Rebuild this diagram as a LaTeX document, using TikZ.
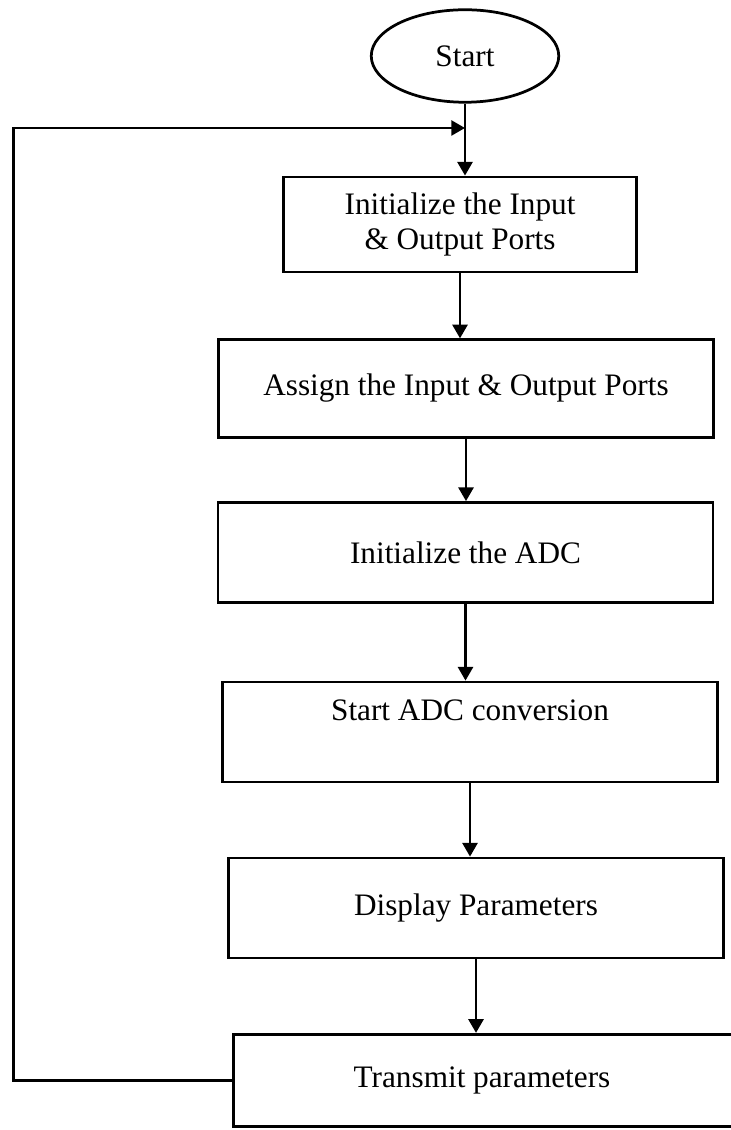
\documentclass[tikz,border=0pt]{standalone}
\usepackage{fontspec}
\setmainfont{Liberation Serif}
\usetikzlibrary{shapes.geometric,arrows.meta}

\begin{document}
\begin{tikzpicture}[x=0.4pt,y=-0.4pt,line width=1.1pt,
    font=\fontsize{12.5}{14}\selectfont,
    >={Triangle[width=6pt,length=5.5pt]},
    stage/.style={draw,shape=rectangle,align=center,inner sep=0pt,minimum height=40pt}]
  \useasboundingbox (0,0) rectangle (731,1130);
  \clip (0,0) rectangle (731,1130);
  \node[draw,shape=ellipse,inner sep=0pt,minimum width=75pt,minimum height=37pt] (start) at (465,56) {Start};
  \node[stage,minimum width=141pt,minimum height=38pt] (initports) at (460,224.5) {Initialize the Input\\ \& Output Ports};
  \node[stage,minimum width=198pt,minimum height=39pt] (assign) at (466,388.5) {Assign the Input \& Output Ports};
  \node[stage,minimum width=198pt] (initadc) at (465.5,552.5) {Initialize the ADC};
  \node[stage,minimum width=198pt,text height=9pt,text depth=18pt] (conv) at (470,732) {Start ADC conversion};
  \node[stage,minimum width=198pt] (display) at (476,908) {Display Parameters};
  \node[stage,minimum width=215pt,minimum height=37pt] (transmit) at (502,1080.5) {\hspace*{-16pt}Transmit parameters};
  \coordinate (join) at (start.south |- 0,128);
  \draw[->] (start.south)     -- (start.south |- initports.north);
  \draw[->] (initports.south) -- (initports.south |- assign.north);
  \draw[->] (assign.south)    -- (assign.south |- initadc.north);
  \draw[->] (initadc.south)   -- (initadc.south |- conv.north);
  \draw[->] (conv.south)      -- (conv.south |- display.north);
  \draw[->] (display.south)   -- (display.south |- transmit.north);
  \draw[->] (transmit.west)   -- ++(-218,0) |- (join);
\end{tikzpicture}
\end{document}
